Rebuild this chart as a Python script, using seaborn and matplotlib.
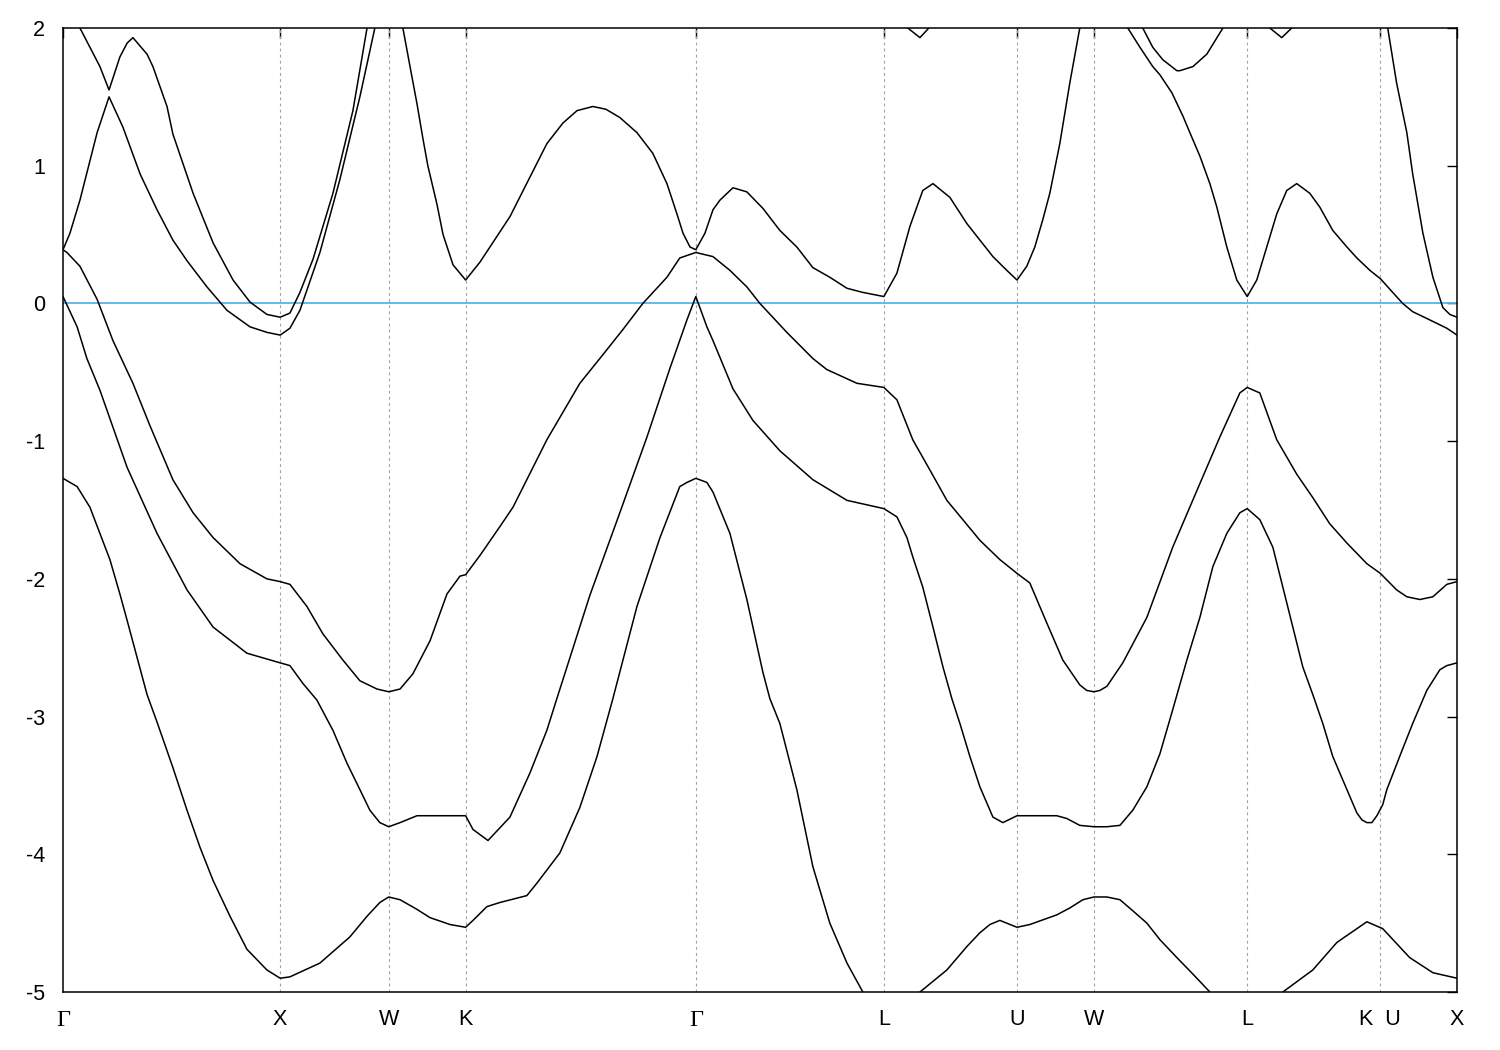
import numpy as np
import pandas as pd
import matplotlib
matplotlib.use("Agg")
import matplotlib.pyplot as plt
import matplotlib.transforms as mtransforms
import seaborn as sns

nan = np.nan

# ---------------------------------------------------
# High-symmetry points along the k-path
# ---------------------------------------------------

kpoint_labels = ["Γ", "X", "W", "K", "Γ", "L", "U", "W", "L", "K  U", "X"]
kpoint_pos = [0.0, 1.0, 1.5, 1.854, 2.914, 3.780, 4.393, 4.747, 5.453, 6.066, 6.419]

energy_ticks = [2, 1, 0, -1, -2, -3, -4, -5]
fermi_level = 0.0

# ---------------------------------------------------
# Bands (k, E in eV); nan = leaves the window
# ---------------------------------------------------

b1_k = [0.000, 0.065, 0.124, 0.170, 0.216, 0.262, 0.295, 0.341, 0.387, 0.433, 0.506, 0.571,
        0.631, 0.691, 0.769, 0.847, 0.939, 1.000,
        1.045, 1.183, 1.321, 1.400, 1.459, 1.500,
        1.552, 1.630, 1.690, 1.782, 1.854,
        1.888, 1.952, 2.012, 2.136, 2.182, 2.288, 2.380, 2.459, 2.532, 2.643, 2.749, 2.840, 2.873,
        2.914,
        2.965, 2.993, 3.071, 3.149, 3.223, 3.255, 3.301, 3.379, 3.453, 3.531, 3.610, 3.683, nan,
        3.946, 4.070, 4.162, 4.222, 4.268, 4.314, 4.393, 4.452, 4.576, 4.636, 4.696, 4.747,
        4.807, 4.867, 4.926, 4.991, 5.051, 5.129, 5.203, 5.281, nan,
        5.617, 5.755, 5.866, 6.004, 6.077, 6.201, 6.308, 6.419]
b1_e = [-1.27, -1.33, -1.48, -1.67, -1.86, -2.11, -2.30, -2.57, -2.84, -3.04, -3.37, -3.68,
        -3.95, -4.19, -4.45, -4.69, -4.84, -4.90,
        -4.89, -4.79, -4.60, -4.45, -4.35, -4.31,
        -4.33, -4.40, -4.46, -4.51, -4.53,
        -4.48, -4.38, -4.35, -4.30, -4.21, -3.99, -3.66, -3.29, -2.87, -2.20, -1.70, -1.33, -1.30,
        -1.27,
        -1.30, -1.37, -1.67, -2.15, -2.68, -2.87, -3.05, -3.53, -4.09, -4.50, -4.79, -5.00, nan,
        -5.00, -4.84, -4.67, -4.57, -4.51, -4.48, -4.53, -4.51, -4.44, -4.39, -4.33, -4.31,
        -4.31, -4.33, -4.41, -4.50, -4.62, -4.75, -4.87, -5.00, nan,
        -5.00, -4.84, -4.64, -4.49, -4.54, -4.75, -4.86, -4.90]

b2_k = [0.000, 0.065, 0.110, 0.170, 0.295, 0.433, 0.571, 0.691, 0.847, 1.000,
        1.045, 1.105, 1.169, 1.243, 1.308, 1.367, 1.413, 1.459, 1.500,
        1.552, 1.630, 1.703, 1.854,
        1.888, 1.957, 2.058, 2.150, 2.228, 2.274, 2.426, 2.564, 2.689, 2.795, 2.873, 2.914,
        2.965, 2.993, 3.085, 3.177, 3.301, 3.453, 3.610, 3.780,
        3.840, 3.886, 3.913, 3.959, 4.006, 4.052, 4.093, 4.130, 4.176, 4.222, 4.282, 4.328, 4.393,
        4.576, 4.622, 4.682, 4.747,
        4.807, 4.867, 4.926, 4.991, 5.051, 5.110, 5.175, 5.235, 5.295, 5.359, 5.419, 5.453,
        5.511, 5.571, 5.617, 5.663, 5.709, 5.755, 5.801, 5.847, 5.912, 5.958, 5.981, 6.004,
        6.027, 6.050, 6.077, 6.096, 6.155, 6.215, 6.280, 6.340, 6.372, 6.419]
b2_e = [0.05, -0.17, -0.40, -0.63, -1.19, -1.67, -2.08, -2.35, -2.54, -2.61,
        -2.63, -2.76, -2.88, -3.10, -3.34, -3.53, -3.68, -3.77, -3.80,
        -3.77, -3.72, -3.72, -3.72,
        -3.82, -3.90, -3.73, -3.41, -3.10, -2.87, -2.12, -1.52, -0.97, -0.47, -0.12, 0.05,
        -0.17, -0.27, -0.62, -0.85, -1.07, -1.28, -1.43, -1.49,
        -1.55, -1.70, -1.84, -2.06, -2.35, -2.64, -2.87, -3.05, -3.29, -3.51, -3.73, -3.77, -3.72,
        -3.72, -3.74, -3.79, -3.80,
        -3.80, -3.79, -3.68, -3.51, -3.27, -2.95, -2.59, -2.28, -1.91, -1.67, -1.52, -1.49,
        -1.57, -1.77, -2.06, -2.35, -2.64, -2.84, -3.05, -3.29, -3.53, -3.70, -3.75, -3.77,
        -3.77, -3.72, -3.64, -3.53, -3.29, -3.05, -2.81, -2.66, -2.63, -2.61]

b3_k = [0.000, 0.018, 0.078, 0.157, 0.230, 0.322, 0.401, 0.506, 0.599, 0.691, 0.815, 0.939, 1.000,
        1.045, 1.123, 1.197, 1.289, 1.367, 1.446, 1.500,
        1.552, 1.611, 1.690, 1.768, 1.828, 1.854,
        1.920, 2.012, 2.072, 2.228, 2.380, 2.472, 2.578, 2.670, 2.781, 2.840, 2.914,
        2.993, 3.071, 3.149, 3.209, 3.333, 3.453, 3.517, 3.656, 3.780,
        3.840, 3.913, 3.992, 4.070, 4.222, 4.314, 4.393,
        4.452, 4.530, 4.604, 4.682, 4.714, 4.747,
        4.775, 4.807, 4.880, 4.991, 5.110, 5.221, 5.327, 5.419, 5.453,
        5.511, 5.589, 5.681, 5.755, 5.833, 5.912, 6.004, 6.066,
        6.141, 6.188, 6.248, 6.308, 6.372, 6.419]
b3_e = [0.39, 0.37, 0.27, 0.03, -0.27, -0.58, -0.89, -1.28, -1.52, -1.70, -1.89, -2.00, -2.02,
        -2.04, -2.20, -2.40, -2.59, -2.74, -2.80, -2.82,
        -2.80, -2.69, -2.45, -2.11, -1.98, -1.97,
        -1.83, -1.62, -1.48, -0.99, -0.58, -0.40, -0.19, 0.00, 0.19, 0.33, 0.37,
        0.34, 0.24, 0.12, 0.00, -0.21, -0.40, -0.48, -0.58, -0.61,
        -0.70, -0.99, -1.21, -1.43, -1.72, -1.86, -1.96,
        -2.03, -2.32, -2.59, -2.77, -2.81, -2.82,
        -2.81, -2.78, -2.61, -2.28, -1.77, -1.36, -0.97, -0.65, -0.61,
        -0.65, -0.99, -1.24, -1.41, -1.60, -1.74, -1.89, -1.96,
        -2.08, -2.13, -2.15, -2.13, -2.04, -2.02]

b4_k = [0.000, 0.032, 0.078, 0.157, 0.212, 0.276, 0.355, 0.433, 0.506, 0.571, 0.663, 0.755,
        0.861, 0.939, 1.000,
        1.045, 1.091, 1.183, 1.275, 1.367, 1.436, nan,
        1.565, 1.598, 1.630, 1.657, 1.680, 1.722, 1.750, 1.796, 1.854,
        1.920, 2.058, 2.228, 2.302, 2.367, 2.440, 2.500, 2.564, 2.643, 2.716, 2.781, 2.827, 2.855,
        2.887, 2.914,
        2.956, 2.993, 3.025, 3.085, 3.149, 3.223, 3.301, 3.379, 3.453, 3.531, 3.610, 3.683, 3.780,
        3.840, 3.900, 3.959, 4.006, 4.084, 4.162, 4.222, 4.282, 4.346, 4.393,
        4.438, 4.475, 4.512, 4.544, 4.590, 4.636, 4.682, nan,
        4.903, 4.959, 5.018, 5.051, 5.106, 5.157, 5.189, 5.235, 5.281, 5.313, 5.359, 5.405, 5.453,
        5.497, 5.543, 5.589, 5.635, 5.681, 5.741, 5.787, 5.847, 5.912, 5.958, 6.018, 6.066,
        6.123, 6.169, 6.215, 6.294, 6.372, 6.419]
b4_e = [0.39, 0.51, 0.75, 1.24, 1.50, 1.28, 0.94, 0.68, 0.46, 0.31, 0.12, -0.05,
        -0.17, -0.21, -0.23,
        -0.18, -0.05, 0.37, 0.90, 1.50, 2.00, nan,
        2.00, 1.72, 1.45, 1.20, 1.00, 0.72, 0.50, 0.28, 0.17,
        0.30, 0.63, 1.16, 1.31, 1.40, 1.43, 1.41, 1.35, 1.24, 1.09, 0.87, 0.65, 0.51,
        0.41, 0.39,
        0.51, 0.68, 0.75, 0.84, 0.81, 0.69, 0.53, 0.41, 0.26, 0.19, 0.11, 0.08, 0.05,
        0.22, 0.56, 0.82, 0.87, 0.77, 0.58, 0.46, 0.34, 0.24, 0.17,
        0.27, 0.41, 0.61, 0.80, 1.16, 1.60, 2.00, nan,
        2.00, 1.86, 1.72, 1.66, 1.53, 1.36, 1.24, 1.07, 0.87, 0.70, 0.41, 0.17, 0.05,
        0.17, 0.41, 0.65, 0.82, 0.87, 0.80, 0.70, 0.53, 0.41, 0.33, 0.24, 0.18,
        0.08, 0.00, -0.06, -0.12, -0.18, -0.23]

b5_k = [0.078, 0.170, 0.212, 0.262, 0.295, 0.322, 0.387, 0.414, 0.479, 0.506, 0.599, 0.691,
        0.783, 0.861, 0.939, 1.000,
        1.045, 1.091, 1.151, 1.243, 1.335, 1.400, nan,
        3.890, 3.946, 3.987, nan,
        4.972, 5.018, 5.064, 5.129, 5.143, 5.203, 5.267, 5.341, nan,
        5.557, 5.612, 5.658, nan,
        6.100, 6.141, 6.188, 6.215, 6.262, 6.308, 6.354, 6.386, 6.419]
b5_e = [2.00, 1.72, 1.55, 1.79, 1.89, 1.93, 1.81, 1.72, 1.43, 1.23, 0.80, 0.44,
        0.17, 0.01, -0.08, -0.10,
        -0.07, 0.08, 0.32, 0.80, 1.40, 2.00, nan,
        2.00, 1.93, 2.00, nan,
        2.00, 1.86, 1.77, 1.69, 1.69, 1.72, 1.81, 2.00, nan,
        2.00, 1.93, 2.00, nan,
        2.00, 1.60, 1.24, 0.94, 0.51, 0.19, -0.03, -0.08, -0.10]

# ---------------------------------------------------
# Long table: one row per point, one "seg" per visible piece
# ---------------------------------------------------

frames = []
bands = [(b1_k, b1_e), (b2_k, b2_e), (b3_k, b3_e), (b4_k, b4_e), (b5_k, b5_e)]
for i, (k, e) in enumerate(bands):
    k = np.array(k, dtype=float)
    e = np.array(e, dtype=float)
    piece = np.cumsum(np.isnan(k))
    df = pd.DataFrame({"k": k, "E": e, "seg": [f"b{i+1}_{p}" for p in piece]})
    frames.append(df.dropna())
bands_df = pd.concat(frames, ignore_index=True)

# ---------------------------------------------------
# Plot
# ---------------------------------------------------

sns.set_theme(style="white")
plt.rcParams["font.family"] = ["Liberation Sans", "DejaVu Sans"]
plt.rcParams["axes.unicode_minus"] = False

fig = plt.figure(figsize=(15, 10.5), dpi=100)
ax = fig.add_axes([63 / 1500, 1 - 992 / 1050, (1457 - 63) / 1500, (992 - 28) / 1050])

for pos in kpoint_pos[1:-1]:
    ax.axvline(pos, color="#a0a0a0", lw=0.8, ls=(0, (2.5, 3)), zorder=1)

ax.axhline(fermi_level, color="#56b4e9", lw=1.3, zorder=2)

sns.lineplot(
    data=bands_df,
    x="k",
    y="E",
    units="seg",
    estimator=None,
    sort=False,
    color="black",
    lw=1.1,
    solid_joinstyle="round",
    legend=False,
    ax=ax,
    zorder=3
)

ax.set_xlim(kpoint_pos[0], kpoint_pos[-1])
ax.set_ylim(-5, 2)

ax.set_xticks(kpoint_pos)
ax.set_xticklabels(kpoint_labels)
ax.set_yticks(energy_ticks)
ax.set_yticklabels([str(t) for t in energy_ticks])

ax.tick_params(
    direction="in",
    length=7.5,
    width=1.0,
    top=True,
    right=True,
    labelsize=15.5,
    colors="black"
)
ax.tick_params(axis="y", pad=13)
ax.tick_params(axis="x", pad=12)

# serif Gamma, a touch larger and nudged down to sit on the same line
gamma_shift = mtransforms.ScaledTranslation(0, -1 / 100, fig.dpi_scale_trans)
for lab in ax.get_xticklabels():
    if lab.get_text() == "Γ":
        lab.set_fontfamily(["Liberation Serif", "DejaVu Serif"])
        lab.set_fontsize(17.5)
        lab.set_transform(lab.get_transform() + gamma_shift)

ax.set_xlabel("")
ax.set_ylabel("")

for side in ax.spines.values():
    side.set_color("black")
    side.set_linewidth(1.1)
    side.set_zorder(5)

fig.savefig("out.png", dpi=100, facecolor="white")
plt.close(fig)
